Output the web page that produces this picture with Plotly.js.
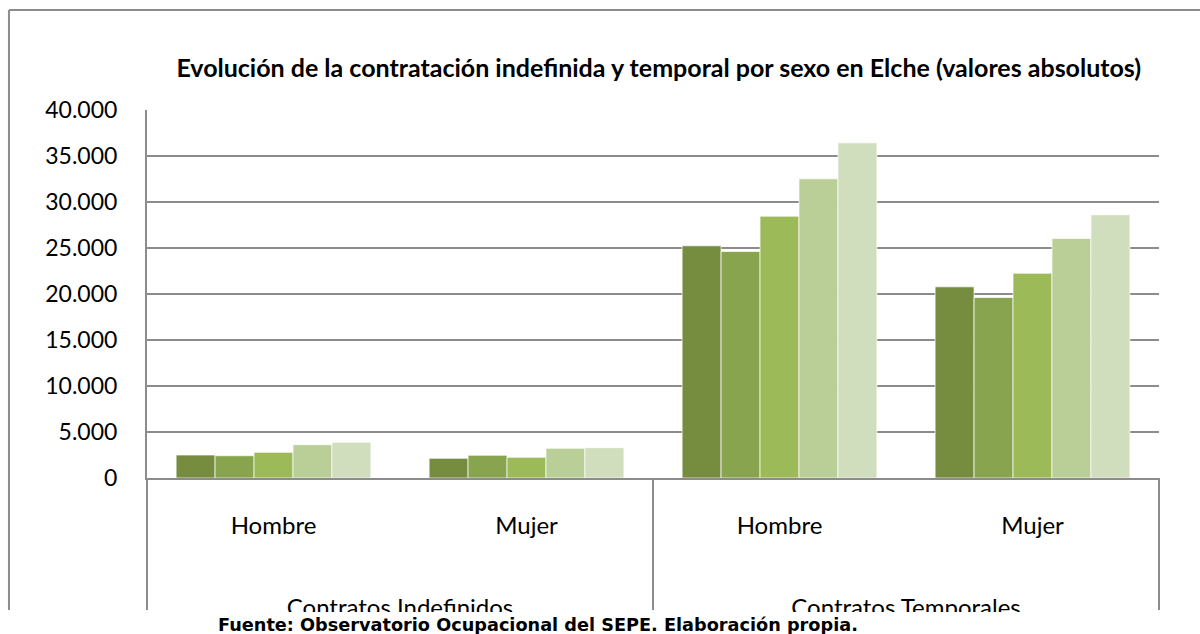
<!DOCTYPE html>
<html>
<head>
<meta charset="utf-8">
<script src="https://cdn.plot.ly/plotly-3.0.1.min.js"></script>
<style>
  html, body { margin: 0; padding: 0; background: #fff; }
  #chart { width: 1200px; height: 634px; }
</style>
</head>
<body>
<div id="chart"></div>
<script>
// Contratación en Elche: 4 columnas (tipo de contrato x sexo), 5 series sin leyenda.
const SEXES = ["Hombre", "Mujer", "Hombre", "Mujer"];
const GROUPS = ["Contratos Indefinidos", "Contratos Temporales"];
const SERIES_NAMES = ["Serie 1", "Serie 2", "Serie 3", "Serie 4", "Serie 5"];
const SERIE_1 = [2500, 2140, 25240, 20780];
const SERIE_2 = [2420, 2470, 24620, 19620];
const SERIE_3 = [2790, 2250, 28460, 22260];
const SERIE_4 = [3620, 3230, 32520, 26030];
const SERIE_5 = [3880, 3300, 36430, 28610];
const COLORS = ["#768D40", "#89A44E", "#9CBB58", "#BACF97", "#D1DEBE"];

const TITLE = "Evolución de la contratación indefinida y temporal por sexo en Elche (valores absolutos)";
const SOURCE = "Fuente: Observatorio Ocupacional del SEPE. Elaboración propia.";

const GRAY = "#8c8c8c";
const pos = SEXES.map((_, i) => i);
// each group label sits between its two columns
const groupPos = GROUPS.map((_, g) => (pos[2 * g] + pos[2 * g + 1]) / 2);

const traces = [SERIE_1, SERIE_2, SERIE_3, SERIE_4, SERIE_5].map((vals, i) => ({
  x: pos, y: vals, name: SERIES_NAMES[i], type: "bar",
  marker: { color: COLORS[i], line: { color: "rgba(255,255,255,0.7)", width: 1 } },
  hovertemplate: "%{y:,d}<extra>" + SERIES_NAMES[i] + "</extra>",
}));
// carrier for the second-level (group) axis
traces.push({ x: groupPos, y: [null, null], xaxis: "x2", type: "scatter", mode: "markers",
  showlegend: false, hoverinfo: "skip" });

// frame / table lines in paper coords (plot area: x 147..1159, y 110..478 px)
const vline = x => ({ type: "line", xref: "paper", yref: "paper", x0: x, x1: x, y0: 0, y1: -0.359,
  line: { color: GRAY, width: 2 } });

const layout = {
  width: 1200, height: 634,
  margin: { l: 147, r: 41, t: 110, b: 156 },
  paper_bgcolor: "#fff", plot_bgcolor: "#fff",
  separators: ",.",
  showlegend: false,
  barmode: "group", bargap: 0.23, bargroupgap: 0,
  title: {
    text: "<b>" + TITLE + "</b>",
    font: { family: "Lato", size: 25, color: "#000" },
    xref: "container", x: 0.549, xanchor: "center",
    yref: "container", y: 0.893, yanchor: "middle",
  },
  xaxis: {
    range: [-0.5, SEXES.length - 0.5], tickvals: pos, ticktext: SEXES,
    showgrid: false, zeroline: false, showline: true, linecolor: GRAY, linewidth: 2,
    ticks: "", ticklabelstandoff: 25,
    tickfont: { family: "Lato", size: 24, color: "#000" },
  },
  xaxis2: {
    overlaying: "x", anchor: "y", side: "bottom",
    range: [-0.5, SEXES.length - 0.5], tickvals: groupPos, ticktext: GROUPS,
    showgrid: false, zeroline: false, showline: false, ticks: "", ticklabelstandoff: 113,
    tickfont: { family: "Lato", size: 24, color: "#000" },
  },
  yaxis: {
    range: [0, 40000], dtick: 5000, tickformat: ",d",
    showgrid: true, gridcolor: GRAY, gridwidth: 1.5,
    zeroline: false, showline: true, linecolor: GRAY, linewidth: 2,
    ticks: "", ticklabelstandoff: 23,
    tickfont: { family: "Lato", size: 23, color: "#000" },
  },
  shapes: [
    vline(0), vline(0.5), vline(1),
    // outer chart frame (top and left edges)
    { type: "line", xref: "paper", yref: "paper", x0: -0.1364, x1: 1.05, y0: 1.2717, y1: 1.2717,
      line: { color: GRAY, width: 2 } },
    { type: "line", xref: "paper", yref: "paper", x0: -0.1364, x1: -0.1364, y0: 1.2717, y1: -0.359,
      line: { color: GRAY, width: 2 } },
    // chart image is cut off under the source line
    { type: "rect", xref: "paper", yref: "paper", layer: "above", x0: -0.2, x1: 1.1, y0: -0.364, y1: -0.45,
      fillcolor: "#fff", line: { width: 0 } },
  ],
  annotations: [{
    text: "<b>" + SOURCE + "</b>", showarrow: false,
    xref: "paper", yref: "paper", x: 0.386, y: -0.4, xanchor: "center", yanchor: "middle",
    font: { family: "DejaVu Sans", size: 17.7, color: "#000" },
  }],
};

Plotly.newPlot("chart", traces, layout, { displayModeBar: false, staticPlot: true });
</script>
</body>
</html>
